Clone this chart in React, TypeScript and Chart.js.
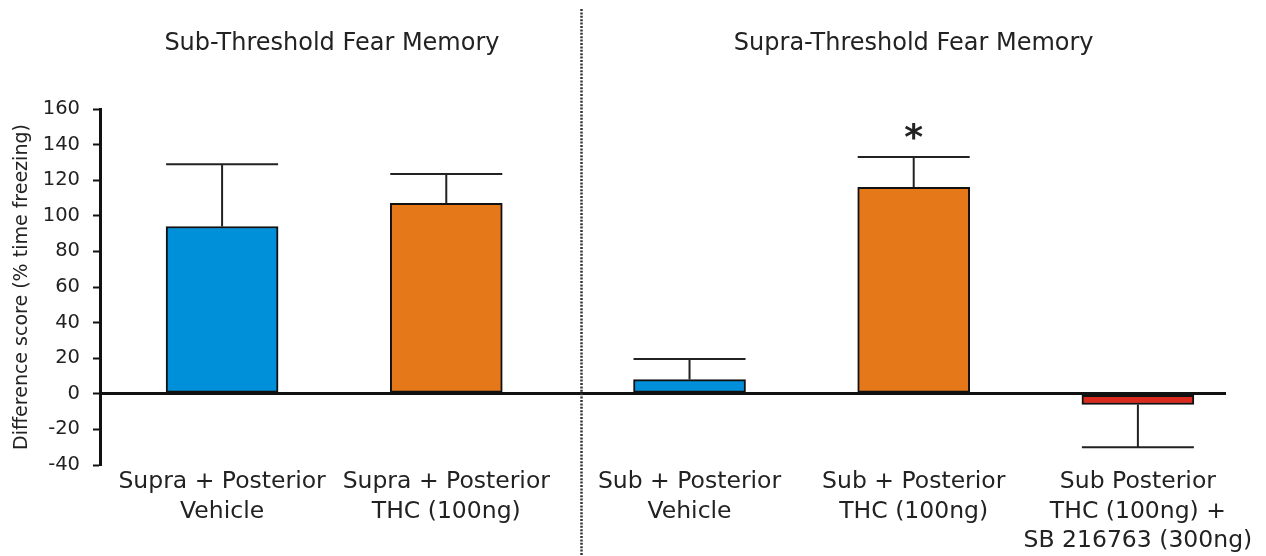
import React, { useEffect, useRef } from "react";
import { Chart, registerables } from "chart.js";

Chart.register(...registerables);

// ---- data ----
const categories: string[][] = [
  ["Supra + Posterior", "Vehicle"],
  ["Supra + Posterior", "THC (100ng)"],
  ["Sub + Posterior", "Vehicle"],
  ["Sub + Posterior", "THC (100ng)"],
  ["Sub Posterior", "THC (100ng) +", "SB 216763 (300ng)"],
];
const xPositions = [1, 2, 3.085, 4.085, 5.085];
const means = [94, 107, 8, 116, -6];
const sems = [35, 16.5, 11.5, 17, 24];
const significance = ["", "", "", "*", ""];
const barColors = ["#0090da", "#e57818", "#0090da", "#e57818", "#da2a1e"];
const groupTitles = ["Sub-Threshold Fear Memory", "Supra-Threshold Fear Memory"];
const groupCenters = [1.49, 4.085];
const separatorAt = 2.6;
const yMin = -40;
const yMax = 160;
const yStep = 20;
const yTitle = "Difference score (% time freezing)";

const FONT = "'DejaVu Sans', 'Liberation Sans', Arial, sans-serif";

const annotationsPlugin = {
  id: "annotations",
  afterDatasetsDraw(chart: any) {
    const ctx = chart.ctx;
    const meta = chart.getDatasetMeta(0);
    const yScale = chart.scales.y;
    ctx.save();
    ctx.strokeStyle = "#222";
    ctx.lineWidth = 2;
    meta.data.forEach((bar: any, i: number) => {
      const m = means[i];
      const e = sems[i];
      const end = m >= 0 ? m + e : m - e;
      const y0 = yScale.getPixelForValue(m);
      const y1 = yScale.getPixelForValue(end);
      const x = bar.x;
      const half = bar.width / 2;
      ctx.beginPath();
      ctx.moveTo(x, y0);
      ctx.lineTo(x, y1);
      ctx.moveTo(x - half, y1);
      ctx.lineTo(x + half, y1);
      ctx.stroke();
      if (significance[i]) {
        ctx.fillStyle = "#222";
        ctx.font = `bold 36px ${FONT}`;
        ctx.textAlign = "center";
        ctx.textBaseline = "alphabetic";
        const tm = ctx.measureText(significance[i]);
        const cy = y1 - 26;
        ctx.fillText(
          significance[i],
          x,
          cy + (tm.actualBoundingBoxAscent - tm.actualBoundingBoxDescent) / 2
        );
      }
    });
    ctx.restore();
  },
  afterDraw(chart: any) {
    const ctx = chart.ctx;
    const xScale = chart.scales.x;
    ctx.save();
    // separator
    const sx = Math.round(xScale.getPixelForValue(separatorAt)) + 0.5;
    ctx.strokeStyle = "#333";
    ctx.lineWidth = 2.5;
    ctx.setLineDash([2, 1.4]);
    ctx.beginPath();
    ctx.moveTo(sx, 9);
    ctx.lineTo(sx, chart.height);
    ctx.stroke();
    ctx.setLineDash([]);
    // group titles
    ctx.fillStyle = "#222";
    ctx.font = `24px ${FONT}`;
    ctx.textAlign = "center";
    ctx.textBaseline = "middle";
    groupTitles.forEach((t, i) => {
      ctx.fillText(t, xScale.getPixelForValue(groupCenters[i]), 43.5);
    });
    ctx.restore();
  },
};

export default function App() {
  const ref = useRef<HTMLCanvasElement | null>(null);
  useEffect(() => {
    if (!ref.current) return;
    const chart = new Chart(ref.current, {
      type: "bar",
      data: {
        datasets: [
          {
            data: xPositions.map((x, i) => ({ x, y: means[i] })),
            backgroundColor: barColors,
            borderColor: "#111",
            borderWidth: 2,
            borderSkipped: false,
            barThickness: 112,
          } as any,
        ],
      },
      options: {
        responsive: false,
        animation: false,
        layout: { padding: { top: 109, right: 40, left: 0, bottom: 0 } },
        plugins: {
          legend: { display: false },
          tooltip: { enabled: false },
          title: { display: false },
        },
        scales: {
          x: {
            type: "linear",
            offset: false,
            min: 0.4554,
            max: 5.478,
            grid: { display: false, drawTicks: false },
            border: { display: false },
            afterBuildTicks: (scale: any) => {
              scale.ticks = xPositions.map((v) => ({ value: v }));
            },
            afterFit: (scale: any) => {
              scale.height = 91;
            },
            ticks: {
              autoSkip: false,
              maxRotation: 0,
              minRotation: 0,
              padding: 2.5,
              color: "#222",
              font: { family: FONT, size: 23.5, lineHeight: 1.25 },
              callback: (_v: any, index: number) => categories[index],
            },
          },
          y: {
            min: yMin,
            max: yMax,
            ticks: {
              stepSize: yStep,
              padding: 13,
              color: "#222",
              font: { family: FONT, size: 19.5 },
            },
            border: { display: true, color: "#111", width: 3 },
            grid: {
              drawTicks: true,
              tickLength: 7,
              tickColor: "#111",
              tickWidth: 2,
              color: (c: any) => (c.tick && c.tick.value === 0 ? "#111" : "rgba(0,0,0,0)"),
              lineWidth: (c: any) => (c.tick && c.tick.value === 0 ? 3 : 1),
            } as any,
            title: {
              display: true,
              text: yTitle,
              color: "#222",
              font: { family: FONT, size: 19 },
              padding: { top: 11, bottom: 0 },
            },
            afterFit: (scale: any) => {
              scale.width = 100;
            },
          },
        },
      },
      plugins: [annotationsPlugin],
    });
    return () => chart.destroy();
  }, []);
  return (
    <div style={{ position: "fixed", left: 0, top: 0, width: 1266, height: 556, background: "#fff" }}>
      <canvas ref={ref} width={1266} height={556} />
    </div>
  );
}
